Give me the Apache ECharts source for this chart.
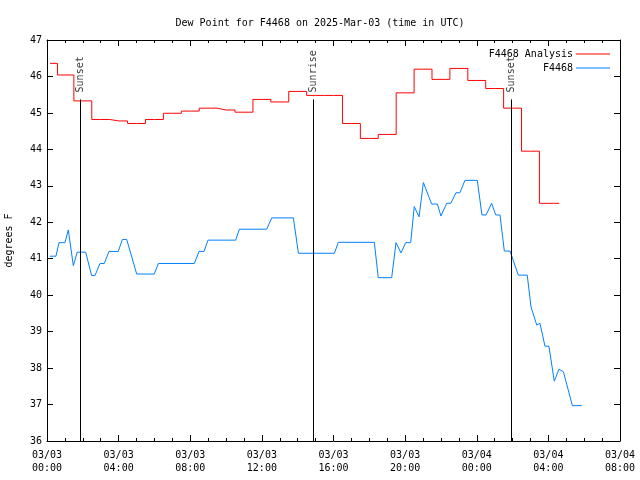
<!DOCTYPE html>
<html><head><meta charset="utf-8">
<script src="https://cdn.jsdelivr.net/npm/echarts@6/dist/echarts.min.js"></script>
<style>html,body{margin:0;padding:0;background:#fff}#c{width:640px;height:480px}</style>
</head><body><div id="c"></div>
<script>
// Analysis (hourly, hours since 2025-03-03 00:00 UTC)
var redHours = [0.17,1,2,3,4,5,6,7,8,9,10,11,12,13,14,15,16,17,18,19,20,21,22,23,24,25,26,27,28,28.6];
var redVals  = [46.36,46.04,45.33,44.82,44.78,44.71,44.82,44.99,45.05,45.13,45.08,45.02,45.37,45.30,45.59,45.48,45.48,44.71,44.30,44.41,45.55,46.20,45.92,46.22,45.89,45.67,45.13,43.95,42.52,42.52];
// Observations
var blueHours = [0.15,0.50,0.67,1.00,1.19,1.47,1.69,2.16,2.49,2.68,2.96,3.20,3.46,3.98,4.21,4.45,5.01,5.99,6.22,8.23,8.49,8.77,8.99,10.54,10.74,12.27,12.55,13.76,14.04,16.05,16.27,18.28,18.50,19.25,19.49,19.77,20.03,20.31,20.51,20.78,21.02,21.48,21.80,22.00,22.32,22.55,22.84,23.06,23.34,24.03,24.29,24.52,24.83,25.06,25.30,25.54,25.86,26.32,26.82,27.03,27.35,27.53,27.81,28.03,28.33,28.59,28.84,29.34,29.86];
var blueVals  = [41.07,41.07,41.44,41.44,41.79,40.81,41.18,41.18,40.54,40.54,40.87,40.87,41.20,41.20,41.53,41.53,40.58,40.58,40.87,40.87,41.20,41.20,41.51,41.51,41.81,41.81,42.12,42.12,41.15,41.15,41.45,41.45,40.48,40.48,41.44,41.16,41.44,41.44,42.43,42.15,43.09,42.50,42.50,42.17,42.52,42.52,42.81,42.81,43.15,43.15,42.20,42.20,42.52,42.20,42.20,41.21,41.21,40.55,40.55,39.68,39.18,39.23,38.60,38.60,37.64,37.97,37.90,36.97,36.97];
// Sun events
var sunNames = ['Sunset','Sunrise','Sunset'];
var sunHours = [1.84, 14.87, 25.93];
var sunTop = 45.37;

var FONT = 'DejaVu Sans Mono';
function zip(a,b){return a.map(function(v,i){return [v,b[i]];});}
function fmtX(v){
  var d = 3 + Math.floor(v/24), h = v % 24;
  var p = function(n){return (n<10?'0':'')+n;};
  return '03/' + p(d) + '\n' + p(h) + ':00';
}
var chart = echarts.init(document.getElementById('c'), null, {renderer:'canvas'});
var axisCommon = {
  axisLine:{show:true, onZero:false, lineStyle:{color:'#000', width:1}},
  splitLine:{show:false}
};
var sunLines = sunHours.map(function(h){return [{coord:[h, sunTop]},{coord:[h, 36]}];});
var sunLabels = sunHours.map(function(h,i){return {value:[h, sunTop], name:sunNames[i]};});
chart.setOption({
  animation:false,
  backgroundColor:'#fff',
  title:{text:'Dew Point for F4468 on 2025-Mar-03 (time in UTC)', left:'center', top:13,
    textStyle:{fontFamily:FONT, fontSize:10, fontWeight:'normal', color:'#000'}},
  legend:{orient:'vertical', right:25, top:43, align:'right', icon:'rect', itemWidth:34, itemHeight:1, itemGap:2,
    itemStyle:{borderWidth:0},
    data:[{name:'F4468 Analysis', itemStyle:{color:'#ff0000'}},{name:'F4468', itemStyle:{color:'#0080ff'}}],
    textStyle:{fontFamily:FONT, fontSize:10, color:'#000', lineHeight:12, padding:[0,-2,0,0]}},
  grid:{left:47, right:20, top:40, bottom:39, outerBoundsMode:'none', containLabel:false},
  xAxis:[
    Object.assign({type:'value', min:0, max:32, interval:4, position:'bottom',
      axisTick:{show:true, inside:true, length:6, lineStyle:{color:'#000'}},
      minorTick:{show:true, splitNumber:4, length:3, lineStyle:{color:'#000'}},
      axisLabel:{formatter:fmtX, fontFamily:FONT, fontSize:10, color:'#000', margin:8, lineHeight:13}}, axisCommon),
    Object.assign({type:'value', min:0, max:32, interval:4, position:'top',
      axisTick:{show:true, inside:true, length:6, lineStyle:{color:'#000'}},
      minorTick:{show:true, splitNumber:4, length:3, lineStyle:{color:'#000'}},
      axisLabel:{show:false}}, axisCommon)
  ],
  yAxis:[
    Object.assign({type:'value', min:36, max:47, interval:1, position:'left',
      name:'degrees F', nameLocation:'middle', nameGap:33, nameRotate:90,
      nameTextStyle:{fontFamily:FONT, fontSize:10, color:'#000'},
      axisTick:{show:true, inside:true, length:6, lineStyle:{color:'#000'}},
      axisLabel:{fontFamily:FONT, fontSize:10, color:'#000', margin:5}}, axisCommon),
    Object.assign({type:'value', min:36, max:47, interval:1, position:'right',
      axisTick:{show:true, inside:true, length:6, lineStyle:{color:'#000'}},
      axisLabel:{show:false}}, axisCommon)
  ],
  series:[
    {name:'F4468 Analysis', type:'line', step:'middle', symbol:'none', data:zip(redHours, redVals),
      lineStyle:{color:'#ff0000', width:1}, itemStyle:{color:'#ff0000'},
      markLine:{silent:true, symbol:['none','none'], label:{show:false},
        lineStyle:{color:'#000', width:1, type:'solid'}, data:sunLines}},
    {name:'F4468', type:'line', symbol:'none', data:zip(blueHours, blueVals),
      lineStyle:{color:'#0080ff', width:1}, itemStyle:{color:'#0080ff'}},
    {name:'sun', type:'scatter', symbolSize:0, data:sunLabels, silent:true,
      label:{show:true, formatter:'{b}', rotate:90, position:[0,-7], align:'left', verticalAlign:'middle',
        fontFamily:FONT, fontSize:10, color:'#000'}}
  ]
});
</script></body></html>
